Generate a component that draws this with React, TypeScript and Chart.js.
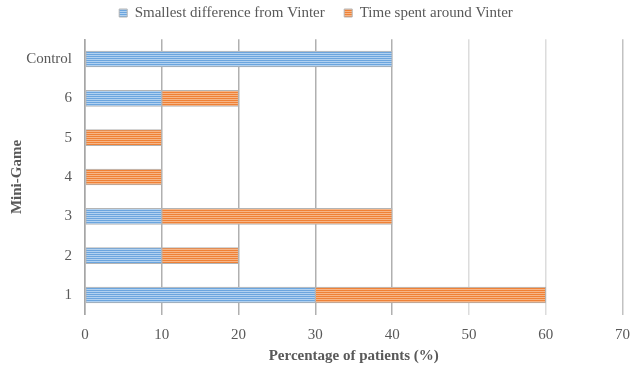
import React, { useEffect, useRef } from "react";
import { Chart, registerables } from "chart.js";

Chart.register(...registerables);

const categories = ["Control", "6", "5", "4", "3", "2", "1"];
const smallestDifference = [40, 10, 0, 0, 10, 10, 30];
const timeSpent = [0, 10, 10, 10, 30, 10, 30];
const seriesNames = ["Smallest difference from Vinter", "Time spent around Vinter"];
const xMax = 70;
const xStep = 10;
const xTitle = "Percentage of patients (%)";
const yTitle = "Mini-Game";

const FONT = "'Liberation Serif', 'Times New Roman', serif";
const TEXT = "#595959";

function stripe(dark: string, light: string) {
  const c = document.createElement("canvas");
  c.width = 4;
  c.height = 2;
  const g = c.getContext("2d")!;
  g.fillStyle = dark;
  g.fillRect(0, 0, 4, 1);
  g.fillStyle = light;
  g.fillRect(0, 1, 4, 1);
  return g.createPattern(c, "repeat")!;
}

export default function App() {
  const ref = useRef<HTMLCanvasElement | null>(null);

  useEffect(() => {
    document.body.style.margin = "0";
    const canvas = ref.current!;
    const blue = stripe("#6ba5de", "#b1d1f0");
    const orange = stripe("#ef8136", "#f7b586");

    const legendFit = {
      id: "legendFit",
      beforeLayout(chart: any) {
        const lg = chart.legend;
        if (lg && !lg._patched) {
          const f = lg.fit;
          lg.fit = function () {
            f.call(this);
            this.height = 53.3;
          };
          lg._patched = true;
        }
      },
    };

    const chart = new Chart(canvas, {
      type: "bar",
      data: {
        labels: categories,
        datasets: [
          {
            label: seriesNames[0],
            data: smallestDifference,
            backgroundColor: blue as any,
            borderColor: "#b4b4b4",
            borderWidth: 1,
            borderSkipped: false,
          },
          {
            label: seriesNames[1],
            data: timeSpent,
            backgroundColor: orange as any,
            borderColor: "#b4b4b4",
            borderWidth: 1,
            borderSkipped: false,
          },
        ],
      },
      options: {
        indexAxis: "y",
        responsive: false,
        animation: false,
        maintainAspectRatio: false,
        layout: { padding: { top: -14, left: 9, right: 7, bottom: 0 } },
        datasets: { bar: { barThickness: 16 } } as any,
        plugins: {
          tooltip: { enabled: false },
          legend: {
            position: "top",
            labels: {
              boxWidth: 8,
              boxHeight: 8,
              padding: 19.5,
              color: TEXT,
              font: { family: FONT, size: 15 },
            },
          },
        },
        scales: {
          x: {
            stacked: true,
            min: 0,
            max: xMax,
            ticks: {
              stepSize: xStep,
              color: TEXT,
              padding: 11,
              font: { family: FONT, size: 15 },
            },
            grid: {
              drawTicks: false,
              lineWidth: 1.5,
              color: (c: any) => {
                const v = c.tick ? c.tick.value : 0;
                if (v === 50 || v === 60) return "#dcdcdc";
                if (v === 70) return "#c2c2c2";
                return "#b0b0b0";
              },
            },
            border: { display: false },
            title: {
              display: true,
              text: xTitle,
              color: TEXT,
              padding: { top: 4, bottom: 2.5 },
              font: { family: FONT, size: 15, weight: "bold" },
            },
            afterFit(scale: any) {
              scale.height = 53.3;
              scale.paddingRight = 7.5;
            },
          },
          y: {
            stacked: true,
            grid: { display: false, drawTicks: false },
            border: { display: true, color: "#a6a6a6", width: 1.5 },
            ticks: {
              color: TEXT,
              padding: 13,
              font: { family: FONT, size: 15 },
            },
            title: {
              display: true,
              text: yTitle,
              color: TEXT,
              padding: { top: -1, bottom: 0 },
              font: { family: FONT, size: 15, weight: "bold" },
            },
            afterFit(scale: any) {
              scale.width = 76;
            },
          },
        },
      },
      plugins: [legendFit],
    });
    return () => chart.destroy();
  }, []);

  return (
    <canvas
      ref={ref}
      width={630}
      height={368}
      style={{ display: "block", width: 630, height: 368 }}
    />
  );
}
